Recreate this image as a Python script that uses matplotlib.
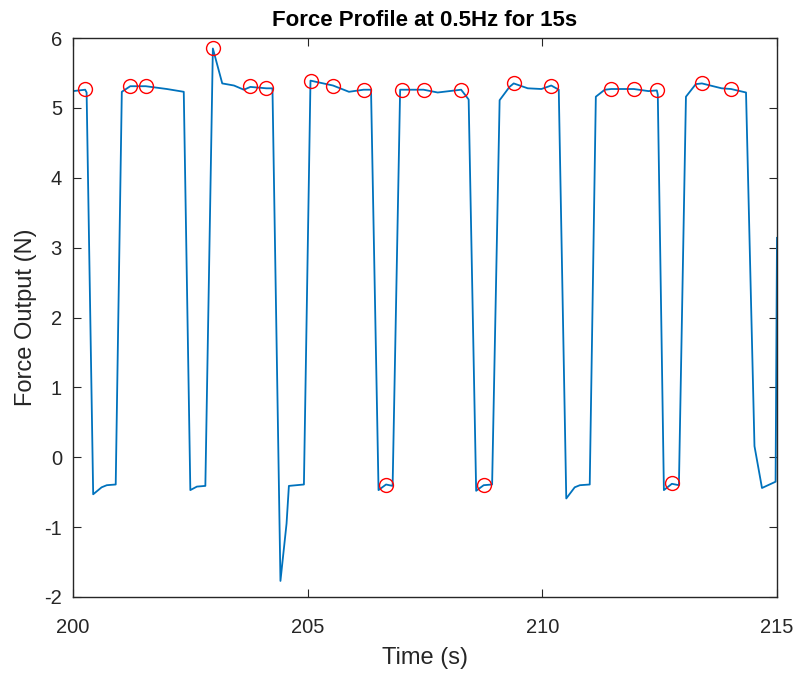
import matplotlib
matplotlib.use("Agg")
import matplotlib.pyplot as plt

plt.rcParams['font.family'] = ['Liberation Sans', 'DejaVu Sans']
plt.rcParams['axes.unicode_minus'] = False

# Force trace
time_s = [200.00, 200.26, 200.29, 200.43, 200.61, 200.72, 200.91, 201.04, 201.22, 201.55,
          202.00, 202.36, 202.50, 202.64, 202.82, 202.98, 203.18, 203.43, 203.64, 203.78,
          204.12, 204.25, 204.42, 204.55, 204.60, 204.92, 205.06, 205.54, 205.88, 206.19,
          206.35, 206.51, 206.67, 206.81, 206.97, 207.47, 207.77, 208.27, 208.43, 208.59,
          208.75, 208.93, 209.09, 209.30, 209.39, 209.69, 209.98, 210.19, 210.35, 210.51,
          210.69, 210.80, 211.01, 211.14, 211.33, 211.47, 211.95, 212.26, 212.44, 212.46,
          212.59, 212.76, 212.91, 213.06, 213.27, 213.40, 213.82, 214.02, 214.34, 214.52,
          214.68, 214.97, 215.00]
force_n = [5.24, 5.26, 5.22, -0.53, -0.43, -0.40, -0.39, 5.23, 5.31, 5.31,
           5.27, 5.23, -0.47, -0.42, -0.41, 5.85, 5.35, 5.32, 5.26, 5.30,
           5.28, 5.28, -1.77, -0.95, -0.41, -0.39, 5.39, 5.32, 5.23, 5.26,
           5.26, -0.47, -0.39, -0.41, 5.26, 5.26, 5.22, 5.26, 5.12, -0.48,
           -0.40, -0.39, 5.11, 5.30, 5.35, 5.28, 5.27, 5.32, 5.26, -0.59,
           -0.43, -0.40, -0.39, 5.16, 5.26, 5.27, 5.27, 5.24, 5.25, 5.19,
           -0.47, -0.38, -0.40, 5.16, 5.34, 5.35, 5.28, 5.27, 5.22, 0.16,
           -0.44, -0.35, 3.14]

# Detected peaks
peak_t = [200.26, 201.22, 201.55, 202.98, 203.78, 204.12, 205.07, 205.54, 206.19, 206.67,
          207.00, 207.47, 208.27, 208.75, 209.39, 210.19, 211.47, 211.95, 212.44, 212.76,
          213.40, 214.02]
peak_f = [5.27, 5.31, 5.31, 5.86, 5.31, 5.28, 5.39, 5.32, 5.26, -0.39,
          5.26, 5.26, 5.26, -0.40, 5.35, 5.32, 5.27, 5.27, 5.25, -0.37,
          5.35, 5.27]

x_ticks = [200, 205, 210, 215]
y_ticks = [-2, -1, 0, 1, 2, 3, 4, 5, 6]

fig = plt.figure(figsize=(8.01, 6.75), dpi=100)
ax = fig.add_axes([73/801, 1-597/675, (777-73)/801, (597-38)/675])

ax.plot(time_s, force_n, color='#0072BD', lw=1.3, clip_on=True, zorder=2)
ax.plot(peak_t, peak_f, 'o', mfc='none', mec='#FF0000', ms=10, mew=1.0, zorder=3)

ax.set_xlim(200, 215)
ax.set_ylim(-2, 6)
ax.set_xticks(x_ticks)
ax.set_yticks(y_ticks)

dark = '#262626'
for s in ax.spines.values():
    s.set_color(dark)
    s.set_linewidth(1.0)
ax.tick_params(direction='in', length=6, width=0.8, color=dark, labelcolor=dark,
               labelsize=14.5, top=True, right=True)
ax.tick_params(axis='x', pad=15)
ax.tick_params(axis='y', pad=8)

ax.set_xlabel('Time (s)', fontsize=17, color=dark, labelpad=7)
ax.set_ylabel('Force Output (N)', fontsize=17, color=dark, labelpad=5)
ax.set_title('Force Profile at 0.5Hz for 15s', fontsize=16, fontweight='bold', color='black', pad=9)

fig.savefig('out.png', dpi=100)
